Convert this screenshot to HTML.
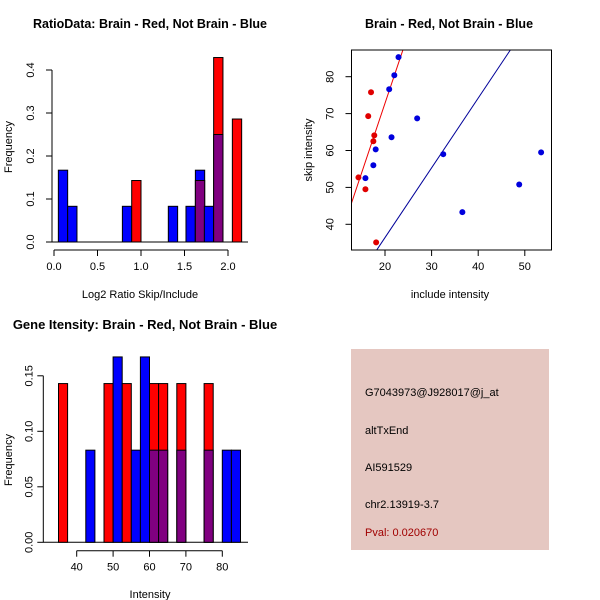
<!DOCTYPE html>
<html><head><meta charset="utf-8">
<style>
html,body{margin:0;padding:0;background:#fff;}
svg{display:block;font-family:"Liberation Sans",Arial,sans-serif;}
</style></head>
<body>
<svg id="c" width="600" height="600" viewBox="0 0 600 600" xmlns="http://www.w3.org/2000/svg">
<rect width="600" height="600" fill="#fff"/>
<text x="150" y="28" text-anchor="middle" font-size="12.5" font-weight="bold">RatioData: Brain - Red, Not Brain - Blue</text>
<text x="449" y="28" text-anchor="middle" font-size="12.5" font-weight="bold">Brain - Red, Not Brain - Blue</text>
<text x="145" y="329" text-anchor="middle" font-size="13" font-weight="bold">Gene Itensity: Brain - Red, Not Brain - Blue</text>
<text x="140" y="298" text-anchor="middle" font-size="11">Log2 Ratio Skip/Include</text>
<text transform="translate(12,147) rotate(-90)" text-anchor="middle" font-size="11">Frequency</text>
<text x="450" y="298" text-anchor="middle" font-size="11">include intensity</text>
<text transform="translate(312,150) rotate(-90)" text-anchor="middle" font-size="11">skip intensity</text>
<text x="150" y="598" text-anchor="middle" font-size="11">Intensity</text>
<text transform="translate(12,460) rotate(-90)" text-anchor="middle" font-size="11">Frequency</text>
<g>
<rect x="351" y="349" width="198" height="201" fill="#e5c7c1"/>
<text x="365" y="396" font-size="11">G7043973@J928017@j_at</text>
<text x="365" y="434" font-size="11">altTxEnd</text>
<text x="365" y="471" font-size="11">AI591529</text>
<text x="365" y="508" font-size="11">chr2.13919-3.7</text>
<text x="365" y="536" font-size="11" fill="#a00000">Pval: 0.020670</text>
</g>
</svg>
<script>
// Plot 1 data
const ratioBinStarts=[0.05,0.157,0.786,0.893,1.314,1.517,1.625,1.728,1.835,2.05];
const ratioBinWidth=0.107;
const ratioRed=[0,0,0,0.143,0,0,0.143,0,0.429,0.286];
const ratioBlue=[0.167,0.083,0.083,0,0.083,0.083,0.167,0.083,0.25,0];
const ratioXTicks=[0,0.5,1.0,1.5,2.0];
const ratioXTickLabels=["0.0","0.5","1.0","1.5","2.0"];
const ratioYTicks=[0,0.1,0.2,0.3,0.4];
const ratioYTickLabels=["0.0","0.1","0.2","0.3","0.4"];
// Plot 2 data
const redInclude=[14.3,15.8,17.0,16.4,17.5,17.7,18.1];
const redSkip=[52.7,49.5,75.8,69.3,62.5,64.1,35.1];
const blueInclude=[22.9,22.0,20.9,26.9,21.4,18.0,17.5,15.8,32.5,36.6,48.8,53.5];
const blueSkip=[85.3,80.4,76.6,68.7,63.6,60.3,56.0,52.5,59.0,43.3,50.8,59.5];
const redFit=[-2.4,3.76];
const blueFit=[-1.4,1.89];
const scatterXTicks=[20,30,40,50];
const scatterYTicks=[40,50,60,70,80];
// Plot 3 data
const intBinStarts=[35,42.5,47.5,50,52.5,55,57.5,60,62.5,67.5,75,80,82.5];
const intBinWidth=2.5;
const intRed=[0.143,0,0.143,0,0.143,0,0,0.143,0.143,0.143,0.143,0,0];
const intBlue=[0,0.083,0,0.167,0,0.083,0.167,0.083,0.083,0.083,0.083,0.083,0.083];
const intXTicks=[40,50,60,70,80];
const intYTicks=[0,0.05,0.10,0.15];
const intYTickLabels=["0.00","0.05","0.10","0.15"];

const svg=document.getElementById('c');
const NS="http://www.w3.org/2000/svg";
function mk(tag,attrs,parent){const e=document.createElementNS(NS,tag);for(const k in attrs)e.setAttribute(k,attrs[k]);(parent||svg).appendChild(e);return e;}

// ---- Plot 1
const x1=v=>54+v*87, y1=v=>242-v*430;
const g1=mk('g',{});


function histBars(g,starts,w,red,blue,xs,ys,prefix){
  starts.forEach((s,i)=>{
    const r=red[i],b=blue[i],hi=Math.max(r,b),lo=Math.min(r,b);
    const xa=xs(s),xb=xs(s+w);
    if(hi>0){const e=mk('rect',{x:xa,y:ys(hi),width:xb-xa,height:ys(0)-ys(hi),fill:r>=b?'#ff0000':'#0000ff',stroke:'#000','stroke-width':1},g);
      
      }
    if(lo>0){const e=mk('rect',{x:xa,y:ys(lo),width:xb-xa,height:ys(0)-ys(lo),fill:'#800080',stroke:'#000','stroke-width':1},g);
      
      }
  });
}
mk('line',{x1:52,y1:y1(0),x2:248,y2:y1(0),stroke:'#000'},g1);
histBars(g1,ratioBinStarts,ratioBinWidth,ratioRed,ratioBlue,x1,y1,'ratio');
function xAxis(g,ticks,labels,xs,yLine,name){
  const a=mk('g',{},g);
  
  
  mk('line',{x1:xs(ticks[0]),y1:yLine,x2:xs(ticks[ticks.length-1]),y2:yLine,stroke:'#000'},a);
  ticks.forEach((t,i)=>{mk('line',{x1:xs(t),y1:yLine,x2:xs(t),y2:yLine+6,stroke:'#000'},a);
    const tx=mk('text',{x:xs(t),y:yLine+20,'text-anchor':'middle','font-size':11},a);tx.textContent=labels[i];});
}
function yAxis(g,ticks,labels,ys,xLine,name,off){
  const a=mk('g',{},g);
  
  
  mk('line',{x1:xLine,y1:ys(ticks[0]),x2:xLine,y2:ys(ticks[ticks.length-1]),stroke:'#000'},a);
  ticks.forEach((t,i)=>{mk('line',{x1:xLine,y1:ys(t),x2:xLine-6,y2:ys(t),stroke:'#000'},a);
    const tx=mk('text',{transform:`translate(${xLine-off},${ys(t)}) rotate(-90)`,'text-anchor':'middle','font-size':11},a);tx.textContent=labels[i];});
}
xAxis(g1,ratioXTicks,ratioXTickLabels,x1,250,'ratio-x-axis');
yAxis(g1,ratioYTicks,ratioYTickLabels,y1,52,'ratio-y-axis',18);

// ---- Plot 2
const x2=v=>385+(v-20)*4.66, y2=v=>224.3-(v-40)*3.69;
const g2=mk('g',{});


mk('defs',{},g2).innerHTML='<clipPath id="cp2"><rect x="352" y="50" width="200" height="200"/></clipPath>';
function fitLine(f,col,name){const xa=10,xb=60;const l=mk('line',{x1:x2(xa),y1:y2(f[0]+f[1]*xa),x2:x2(xb),y2:y2(f[0]+f[1]*xb),stroke:col,'stroke-width':1,'clip-path':'url(#cp2)'},g2);
  
  }
fitLine(redFit,'#ee0000','brain-fit-line');
fitLine(blueFit,'#000099','not-brain-fit-line');
redInclude.forEach((v,i)=>{const c=mk('circle',{cx:x2(v),cy:y2(redSkip[i]),r:3,fill:'#e00000'},g2);
  
  });
blueInclude.forEach((v,i)=>{const c=mk('circle',{cx:x2(v),cy:y2(blueSkip[i]),r:3,fill:'#0000dd'},g2);
  
  });
mk('rect',{x:351.5,y:50,width:200,height:200,fill:'none',stroke:'#000'},g2);
function xTicksBox(g,ticks,xs,yLine,name){const a=mk('g',{},g);
  ticks.forEach(t=>{mk('line',{x1:xs(t),y1:yLine,x2:xs(t),y2:yLine+6,stroke:'#000'},a);const tx=mk('text',{x:xs(t),y:yLine+20,'text-anchor':'middle','font-size':11},a);tx.textContent=t;});}
function yTicksBox(g,ticks,ys,xLine,name){const a=mk('g',{},g);
  ticks.forEach(t=>{mk('line',{x1:xLine,y1:ys(t),x2:xLine-6,y2:ys(t),stroke:'#000'},a);const tx=mk('text',{transform:`translate(${xLine-18},${ys(t)}) rotate(-90)`,'text-anchor':'middle','font-size':11},a);tx.textContent=t;});}
xTicksBox(g2,scatterXTicks,x2,250,'scatter-x-axis');
yTicksBox(g2,scatterYTicks,y2,351.5,'scatter-y-axis');

// ---- Plot 3
const x3=v=>76.7+(v-40)*3.64, y3=v=>542.3-v*1110;
const g3=mk('g',{});


mk('line',{x1:43,y1:y3(0),x2:248,y2:y3(0),stroke:'#000'},g3);
histBars(g3,intBinStarts,intBinWidth,intRed,intBlue,x3,y3,'intensity');
xAxis(g3,intXTicks,intXTicks.map(String),x3,550.7,'intensity-x-axis');
yAxis(g3,intYTicks,intYTickLabels,y3,43.3,'intensity-y-axis',11);
</script>
</body></html>
